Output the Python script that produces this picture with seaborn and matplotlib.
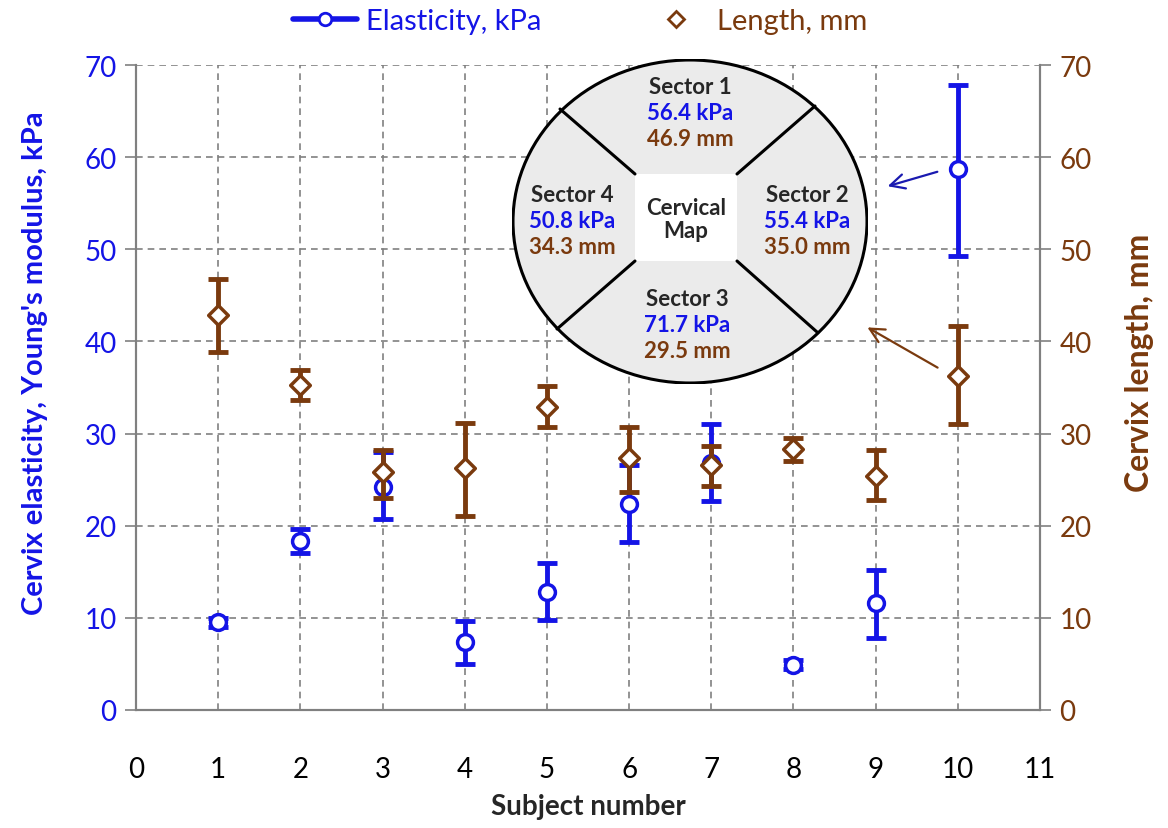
import numpy as np
import pandas as pd
import matplotlib
matplotlib.use("Agg")
import matplotlib.pyplot as plt
import seaborn as sns
from matplotlib.patches import Ellipse, Rectangle
from matplotlib.lines import Line2D

# data
subjects = [1, 2, 3, 4, 5, 6, 7, 8, 9, 10]
elasticity = [9.5, 18.3, 24.2, 7.4, 12.8, 22.4, 26.8, 4.9, 11.6, 58.7]
elast_lo = [9.0, 17.0, 20.7, 5.0, 9.8, 18.2, 22.7, 4.4, 7.8, 49.3]
elast_hi = [10.0, 19.6, 28.0, 9.7, 15.9, 26.6, 31.0, 5.4, 15.2, 67.8]
length = [42.9, 35.3, 25.8, 26.3, 32.9, 27.3, 26.6, 28.3, 25.4, 36.3]
length_lo = [38.9, 33.6, 23.0, 21.1, 30.7, 23.7, 24.3, 27.0, 22.8, 31.0]
length_hi = [46.8, 36.9, 28.2, 31.2, 35.2, 30.7, 28.7, 29.5, 28.2, 41.7]

sectors = ["Sector 1", "Sector 2", "Sector 3", "Sector 4"]
sector_kpa = [56.4, 55.4, 71.7, 50.8]
sector_mm = [46.9, 35.0, 29.5, 34.3]

BLUE = "#1414e6"
BROWN = "#7a3a0e"
GRIDC = "#808080"

sns.set_style("white")
plt.rcParams['font.family'] = ['Lato', 'DejaVu Sans']

df = pd.DataFrame({"subject": subjects, "elasticity": elasticity, "length": length})

fig = plt.figure(figsize=(11.68, 8.29), dpi=100)
ax = fig.add_axes([136/1168, 1-711/829, (1040-136)/1168, (711-66)/829])
ax2 = ax.twinx()

for a in (ax, ax2):
    a.set_xlim(0, 11)
    a.set_ylim(0, 70)
    a.set_yticks(range(0, 71, 10))

ax.set_xticks(range(0, 12))
ax.grid(True, color=GRIDC, linestyle=(0, (4, 3)), linewidth=1.2)
ax.set_axisbelow(True)

for a in (ax, ax2):
    for s in ("left", "right", "bottom"):
        a.spines[s].set_color(GRIDC)
        a.spines[s].set_linewidth(1.5)
    a.spines["top"].set_visible(False)

ax.tick_params(axis="x", length=8, width=1.2, color=GRIDC, pad=25, labelsize=20, labelcolor="black")
ax.tick_params(axis="y", length=8, width=1.2, color=GRIDC, pad=6, labelsize=20, labelcolor=BLUE)
ax2.tick_params(axis="y", length=8, width=1.2, color=GRIDC, pad=6, labelsize=20, labelcolor=BROWN)

# error bars
e_lo = np.array(elasticity) - np.array(elast_lo)
e_hi = np.array(elast_hi) - np.array(elasticity)
l_lo = np.array(length) - np.array(length_lo)
l_hi = np.array(length_hi) - np.array(length)

ax.errorbar(subjects, elasticity, yerr=[e_lo, e_hi], fmt="none", ecolor=BLUE,
            elinewidth=3.5, capsize=7, capthick=3.5, zorder=3)
ax2.errorbar(subjects, length, yerr=[l_lo, l_hi], fmt="none", ecolor=BROWN,
             elinewidth=3.5, capsize=7, capthick=3.5, zorder=3)

sns.scatterplot(data=df, x="subject", y="elasticity", ax=ax, marker="o", s=130,
                facecolor="white", edgecolor=BLUE, linewidth=2.5, zorder=4)
sns.scatterplot(data=df, x="subject", y="length", ax=ax2, marker="D", s=100,
                facecolor="white", edgecolor=BROWN, linewidth=2.5, zorder=4)

ax.set_xlabel("Subject number", fontsize=20, fontweight="bold", labelpad=8)
ax.set_ylabel("Cervix elasticity, Young's modulus, kPa", fontsize=21, fontweight="bold",
              color=BLUE, labelpad=26)
ax2.set_ylabel("Cervix length, mm", fontsize=23, fontweight="bold", color=BROWN, labelpad=24)
ax.yaxis.label.set_y(0.54)
ax2.yaxis.label.set_y(0.54)

# legend
handles = [Line2D([], [], color=BLUE, lw=4, marker="o", markersize=9,
                  markerfacecolor="white", markeredgewidth=2),
           Line2D([], [], color=BROWN, lw=0, marker="D", markersize=8,
                  markerfacecolor="white", markeredgewidth=2)]
fig.legend(handles, ["Elasticity, kPa", "Length, mm"], loc="center",
           bbox_to_anchor=(580/1168, 1-22/829), ncol=2, frameon=False,
           fontsize=21, labelcolor=[BLUE, BROWN], columnspacing=3.5, handlelength=2.2,
           handletextpad=0.3)

# cervical map inset (pixel coordinates of inset box)
mx = fig.add_axes([512/1168, 1-385/829, 356/1168, 325/829])
mx.set_xlim(0, 356)
mx.set_ylim(325, 0)
mx.axis("off")
mx.add_patch(Ellipse((178, 162.5), 354, 323, facecolor="#ebebeb", edgecolor="black", lw=2.2))
mx.add_patch(Rectangle((123, 115), 102, 87, facecolor="white", edgecolor="none"))
for (x0, y0, x1, y1) in [(123, 115, 48, 50), (225, 115, 303, 47),
                         (123, 202, 45, 270), (225, 202, 305, 273)]:
    mx.plot([x0, x1], [y0, y1], color="black", lw=2.2)

pos = [(178, 27), (295, 135), (175, 240), (60, 135)]
for name, kpa, mm, (px, py) in zip(sectors, sector_kpa, sector_mm, pos):
    mx.text(px, py, name, ha="center", va="center", fontsize=16, fontweight="bold")
    mx.text(px, py + 26, f"{kpa:.1f} kPa", ha="center", va="center", fontsize=16,
            fontweight="bold", color=BLUE)
    mx.text(px, py + 52, f"{mm:.1f} mm", ha="center", va="center", fontsize=16,
            fontweight="bold", color=BROWN)
mx.text(174, 160, "Cervical\nMap", ha="center", va="center", fontsize=16,
        fontweight="bold", linespacing=1.1)

# arrows from subject 10 to the map
ax.annotate("", xy=(885, 829-188), xycoords="figure pixels",
            xytext=(940, 829-172), textcoords="figure pixels",
            arrowprops=dict(arrowstyle="->", color="#1a1ab0", lw=1.6, mutation_scale=26))
ax.annotate("", xy=(865, 829-327), xycoords="figure pixels",
            xytext=(940, 829-370), textcoords="figure pixels",
            arrowprops=dict(arrowstyle="->", color=BROWN, lw=1.6, mutation_scale=26))

fig.savefig("out.png", dpi=100)
